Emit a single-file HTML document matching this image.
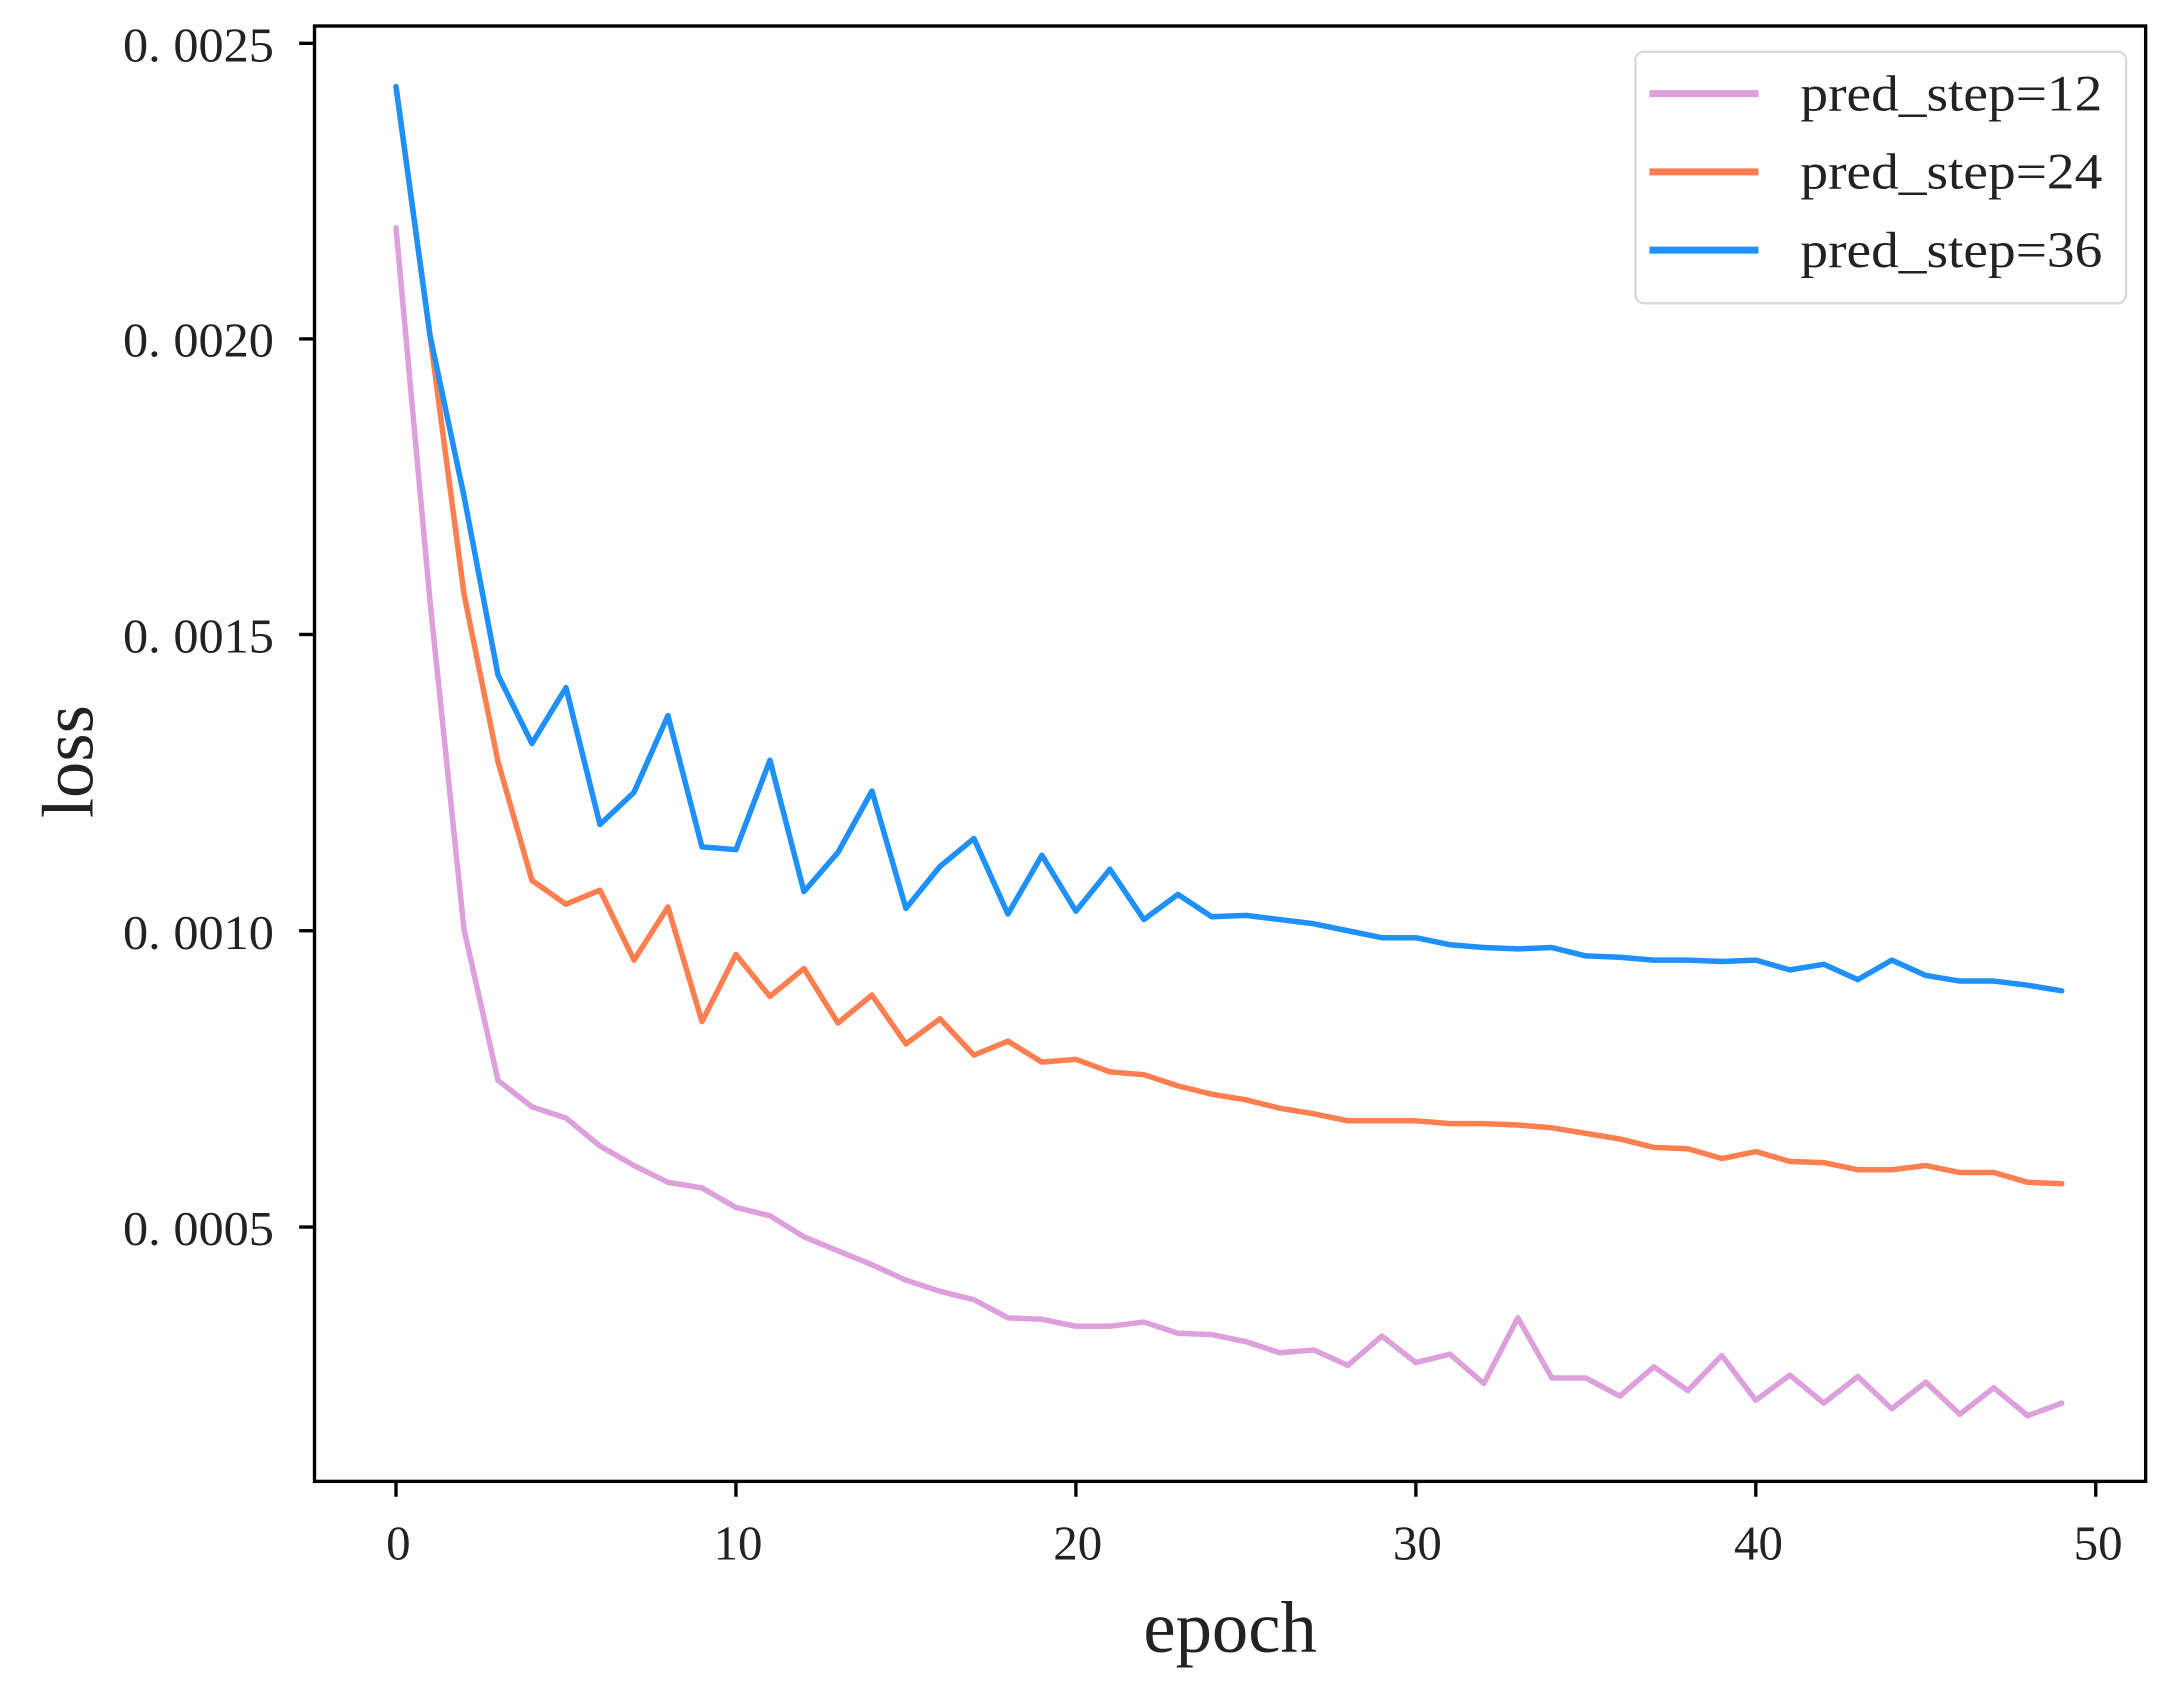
<!DOCTYPE html>
<html><head><meta charset="utf-8"><style>
html,body{margin:0;padding:0;background:#fff;}
svg{display:block;}
text{font-family:"Liberation Serif","Noto Serif CJK SC",serif;fill:#222;}
</style></head><body>
<svg width="2182" height="1691" viewBox="0 0 1561 1210" preserveAspectRatio="none" xmlns="http://www.w3.org/2000/svg">
<rect width="1561" height="1210" fill="#fff"/>
<g fill="none" stroke-width="5.5" stroke-linejoin="round" stroke-linecap="round">
<g transform="translate(283.3,0) scale(24.32,1)">
<polyline vector-effect="non-scaling-stroke" stroke="#dda0dd" points="0,163 1,430 2,665 3,773 4,792 5,800 6,820 7,834 8,846 9,850 10,864 11,870 12,885 13,895 14,905 15,916 16,924 17,930 18,943 19,944 20,949 21,949 22,946 23,954 24,955 25,960 26,968 27,966 28,977 29,956 30,975 31,969 32,990 33,943 34,986 35,986 36,999 37,978 38,995 39,970 40,1002 41,984 42,1004 43,985 44,1008 45,989 46,1012 47,993 48,1013 49,1004"/>
<polyline vector-effect="non-scaling-stroke" stroke="#ff7f50" points="0,62 1,240 2,425 3,545 4,630 5,647 6,637 7,687 8,649 9,731 10,683 11,713 12,693 13,732 14,712 15,747 16,729 17,755 18,745 19,760 20,758 21,767 22,769 23,777 24,783 25,787 26,793 27,797 28,802 29,802 30,802 31,804 32,804 33,805 34,807 35,811 36,815 37,821 38,822 39,829 40,824 41,831 42,832 43,837 44,837 45,834 46,839 47,839 48,846 49,847"/>
<polyline vector-effect="non-scaling-stroke" stroke="#1e90ff" points="0,62 1,240 2,355 3,483 4,532 5,492 6,590 7,567 8,512 9,606 10,608 11,544 12,638 13,610 14,566 15,650 16,620 17,600 18,654 19,612 20,652 21,622 22,658 23,640 24,656 25,655 26,658 27,661 28,666 29,671 30,671 31,676 32,678 33,679 34,678 35,684 36,685 37,687 38,687 39,688 40,687 41,694 42,690 43,701 44,687 45,698 46,702 47,702 48,705 49,709"/>
</g>
</g>
<rect x="225" y="18.6" width="1310" height="1041.4" fill="none" stroke="#000" stroke-width="2.4"/>
<g stroke="#000" stroke-width="2.4">
<line x1="214" y1="31" x2="225" y2="31"/><line x1="214" y1="242.5" x2="225" y2="242.5"/><line x1="214" y1="454" x2="225" y2="454"/><line x1="214" y1="666" x2="225" y2="666"/><line x1="214" y1="878" x2="225" y2="878"/>
<line x1="283.3" y1="1060" x2="283.3" y2="1071"/><line x1="526.5" y1="1060" x2="526.5" y2="1071"/><line x1="769.7" y1="1060" x2="769.7" y2="1071"/><line x1="1012.9" y1="1060" x2="1012.9" y2="1071"/><line x1="1256.1" y1="1060" x2="1256.1" y2="1071"/><line x1="1499.3" y1="1060" x2="1499.3" y2="1071"/>
</g>
<g font-size="35" text-anchor="end">
<text x="196" y="44" textLength="108" lengthAdjust="spacingAndGlyphs">0. 0025</text>
<text x="196" y="255" textLength="108" lengthAdjust="spacingAndGlyphs">0. 0020</text>
<text x="196" y="467" textLength="108" lengthAdjust="spacingAndGlyphs">0. 0015</text>
<text x="196" y="679" textLength="108" lengthAdjust="spacingAndGlyphs">0. 0010</text>
<text x="196" y="891" textLength="108" lengthAdjust="spacingAndGlyphs">0. 0005</text>
</g>
<g font-size="35" text-anchor="middle">
<text x="285" y="1116">0</text>
<text x="528" y="1116">10</text>
<text x="771" y="1116">20</text>
<text x="1014" y="1116">30</text>
<text x="1258" y="1116">40</text>
<text x="1501" y="1116">50</text>
</g>
<text x="880" y="1182" font-size="52" text-anchor="middle">epoch</text>
<text transform="translate(66,545) rotate(-90)" font-size="52" text-anchor="middle">loss</text>
<rect x="1170" y="37" width="351" height="180" rx="6" fill="#fff" stroke="#d8d8d8" stroke-width="1.6"/>
<g stroke-width="5">
<line x1="1180" y1="67" x2="1258" y2="67" stroke="#dda0dd"/>
<line x1="1180" y1="123" x2="1258" y2="123" stroke="#ff7f50"/>
<line x1="1180" y1="179" x2="1258" y2="179" stroke="#1e90ff"/>
</g>
<g font-size="36">
<text x="1288" y="79" textLength="216" lengthAdjust="spacingAndGlyphs">pred_step=12</text>
<text x="1288" y="135" textLength="216" lengthAdjust="spacingAndGlyphs">pred_step=24</text>
<text x="1288" y="191" textLength="216" lengthAdjust="spacingAndGlyphs">pred_step=36</text>
</g>
</svg>
</body></html>
